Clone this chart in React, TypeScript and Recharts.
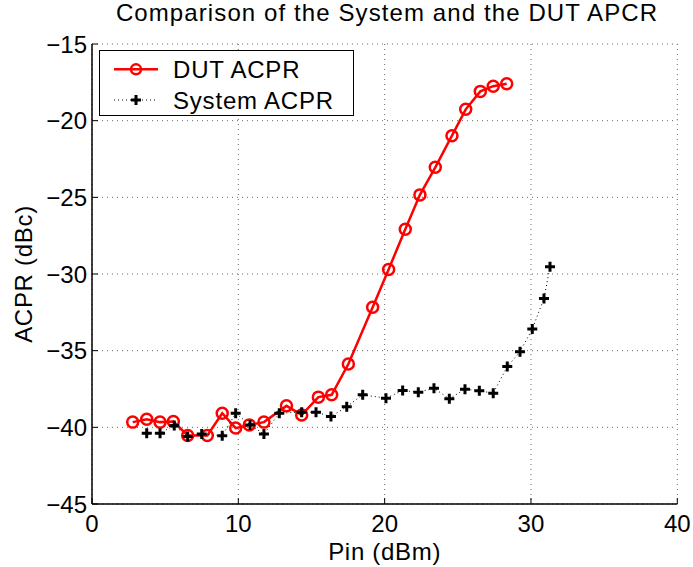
import { LineChart, Line, XAxis, YAxis, CartesianGrid, Legend } from 'recharts'

const chartTitle = 'Comparison of the System and the DUT APCR'
const xLabel = 'Pin (dBm)'
const yLabel = 'ACPR (dBc)'

const xTicks = [0, 10, 20, 30, 40]
const yTicks = [-45, -40, -35, -30, -25, -20, -15]

// DUT ACPR (red, circles)
const dutPin = [2.78, 3.74, 4.65, 5.56, 6.54, 7.88, 8.9, 9.82, 10.75, 11.75, 13.29, 14.33, 15.47,
    16.38, 17.52, 19.18, 20.27, 21.41, 22.41, 23.46, 24.6, 25.54, 26.54, 27.42, 28.34]
const dutAcpr = [-39.66, -39.47, -39.66, -39.62, -40.53, -40.53, -39.08, -40.05, -39.84, -39.66, -38.6,
    -39.19, -38.03, -37.88, -35.87, -32.17, -29.7, -27.08, -24.84, -23.04, -20.98, -19.26, -18.09, -17.75, -17.59]

// System ACPR (black dotted, plus)
const sysPin = [3.74, 4.65, 5.62, 6.54, 7.5, 8.9, 9.82, 10.8, 11.75, 12.8, 14.33, 15.31, 16.33, 17.41,
    18.5, 20.09, 21.23, 22.3, 23.37, 24.42, 25.49, 26.47, 27.42, 28.38, 29.25, 30.09, 30.89, 31.3]
const sysAcpr = [-40.38, -40.38, -39.88, -40.6, -40.44, -40.55, -39.08, -39.84, -40.44, -39.08, -39.01,
    -39.01, -39.3, -38.65, -37.88, -38.1, -37.6, -37.71, -37.45, -38.14, -37.51, -37.62, -37.77, -36.04,
    -35.07, -33.59, -31.59, -29.53]

const dutData = dutPin.map((x, i) => ({ x, y: dutAcpr[i] }))
const sysData = sysPin.map((x, i) => ({ x, y: sysAcpr[i] }))

const FONT = '"Liberation Sans", Arial, Helvetica, sans-serif'
const TICK_LEN = 6
const fmt = (v: number) => (v < 0 ? '\u2212' + Math.abs(v) : String(v))

function BottomTick(props: any) {
    const { x, y, payload } = props
    return (
        <g>
            <line x1={x} x2={x} y1={y} y2={y - TICK_LEN} stroke="#000" />
            <text x={x} y={y + 27.5} textAnchor="middle" fontSize={24} fontFamily={FONT} fill="#000">
                {fmt(payload.value)}
            </text>
        </g>
    )
}

function LeftTick(props: any) {
    const { x, y, payload } = props
    return (
        <g>
            <line x1={x} x2={x + TICK_LEN} y1={y} y2={y} stroke="#000" />
            <text x={x - 5} y={y + 8.5} textAnchor="end" fontSize={24} fontFamily={FONT} fill="#000">
                {fmt(payload.value)}
            </text>
        </g>
    )
}

function TopTick(props: any) {
    const { x, y } = props
    return <line x1={x} x2={x} y1={y} y2={y + TICK_LEN} stroke="#000" />
}

function RightTick(props: any) {
    const { x, y } = props
    return <line x1={x} x2={x - TICK_LEN} y1={y} y2={y} stroke="#000" />
}

function PlusDot(props: any) {
    const { cx, cy, index } = props
    if (cx == null || cy == null) return null
    return (
        <path key={`plus-${index}`}
            d={`M${cx - 5},${cy}H${cx + 5}M${cx},${cy - 5}V${cy + 5}`}
            stroke="#000" strokeWidth={3} fill="none" />
    )
}

function LegendBox() {
    const txt = { fontSize: 24, fontFamily: FONT, letterSpacing: 0.8, fill: '#000' }
    return (
        <svg width={255} height={66} style={{ display: 'block' }}>
            <rect x={0.5} y={0.5} width={254} height={65} fill="#fff" stroke="#000" />
            <line x1={15} x2={59} y1={19.3} y2={19.3} stroke="#ff0000" strokeWidth={2.5} />
            <circle cx={37} cy={19.3} r={5} stroke="#ff0000" strokeWidth={2.5} fill="none" />
            <text x={74} y={27.8} {...txt}>DUT ACPR</text>
            <line x1={15} x2={59} y1={50} y2={50} stroke="#000" strokeWidth={1} strokeDasharray="1 3" />
            <path d="M32,50H42M37,45V55" stroke="#000" strokeWidth={3} />
            <text x={74} y={58.5} {...txt}>System ACPR</text>
        </svg>
    )
}

export default function App() {
    return (
        <div style={{ position: 'fixed', left: 0, top: 0, width: 693, height: 567, fontFamily: FONT, background: '#fff' }}>
            <svg width={693} height={30} style={{ position: 'absolute', left: 0, top: 0 }}>
                <text x={387} y={21.3} textAnchor="middle" fontSize={24} fontFamily={FONT}
                    letterSpacing={1.1} fill="#000">{chartTitle}</text>
            </svg>
            <div style={{ position: 'absolute', left: 0, top: 0 }}>
                <LineChart width={693} height={567} margin={{ top: 44, right: 15.7, bottom: 0, left: 0 }}>
                    <CartesianGrid stroke="#666" strokeDasharray="1 4" />
                    <XAxis dataKey="x" type="number" domain={[0, 40]} ticks={xTicks} height={63}
                        tickLine={false} tickSize={0} tickMargin={0} tick={(p: any) => <BottomTick {...p} />}
                        axisLine={{ stroke: '#000', strokeWidth: 1.5 }} allowDataOverflow
                        label={{ value: xLabel, position: 'insideBottom', offset: 7.5, fontSize: 24,
                            fill: '#000', fontFamily: FONT, style: { letterSpacing: 0.7 } }} />
                    <XAxis xAxisId="top" orientation="top" type="number" domain={[0, 40]} ticks={xTicks}
                        height={0} tickLine={false} tickSize={0} tickMargin={0} tick={(p: any) => <TopTick {...p} />}
                        axisLine={{ stroke: '#000', strokeWidth: 1.5 }} />
                    <YAxis type="number" domain={[-45, -15]} ticks={yTicks} width={92}
                        tickLine={false} tickSize={0} tickMargin={0} tick={(p: any) => <LeftTick {...p} />}
                        axisLine={{ stroke: '#000', strokeWidth: 1.5 }} allowDataOverflow
                        label={{ value: yLabel, angle: -90, position: 'insideLeft', offset: 23.5, fontSize: 24,
                            fill: '#000', fontFamily: FONT, style: { textAnchor: 'middle', letterSpacing: 0.7 } }} />
                    <YAxis yAxisId="right" orientation="right" type="number" domain={[-45, -15]} ticks={yTicks}
                        width={0} tickLine={false} tickSize={0} tickMargin={0} tick={(p: any) => <RightTick {...p} />}
                        axisLine={{ stroke: '#000', strokeWidth: 1.5 }} />
                    <Line data={dutData} dataKey="y" name="DUT ACPR" type="linear" stroke="#ff0000"
                        strokeWidth={2.5} dot={{ r: 5.5, stroke: '#ff0000', strokeWidth: 2.5, fill: 'none' }}
                        activeDot={false} isAnimationActive={false} />
                    <Line data={sysData} dataKey="y" name="System ACPR" type="linear" stroke="#000"
                        strokeWidth={1} strokeDasharray="1 3" dot={(p: any) => <PlusDot key={`pd-${p.index}`} {...p} />}
                        activeDot={false} isAnimationActive={false} />
                    <Legend layout="horizontal" verticalAlign="middle" align="center"
                        content={() => <LegendBox />}
                        wrapperStyle={{ left: 99.3, top: 50, width: 255, height: 66 }} />
                </LineChart>
            </div>
        </div>
    )
}
